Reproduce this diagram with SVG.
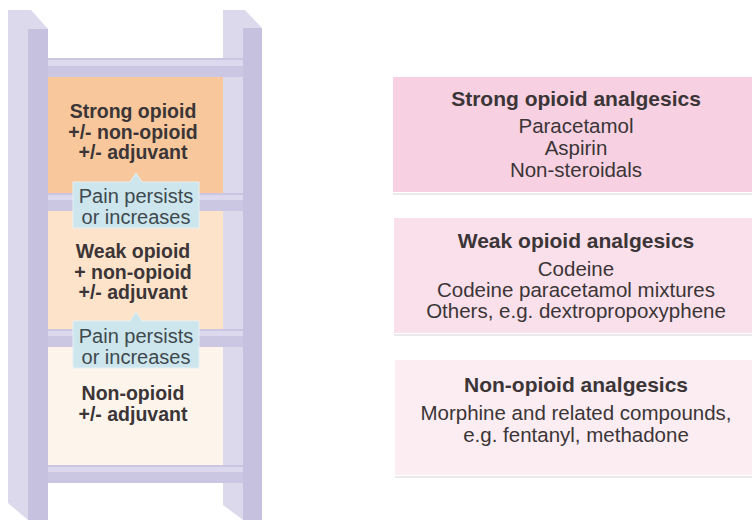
<svg xmlns="http://www.w3.org/2000/svg" width="752" height="520" viewBox="0 0 752 520">
<style>
  text { font-family: "Liberation Sans", Arial, sans-serif; text-anchor: middle; }
  .b { font-weight: bold; font-size: 19.5px; fill: #3b3537; }
  .rb { font-weight: bold; font-size: 21px; fill: #3b3537; }
  .r { font-size: 20.5px; fill: #3b3537; }
  .cl { font-size: 20px; fill: #3e494e; }
  .side { fill: #dcd9ec; }
  .front { fill: #c6c1de; }
  .rung { fill: #cbc6e2; }
  .hl { fill: #dcd9ee; }
  .callout { fill: #cde5ec; stroke: #e4f1f4; stroke-width: 1; }
  .shadow { fill: #ece9ea; }
</style>
<rect width="752" height="520" fill="#ffffff"/>

<g id="ladder">
  <rect x="48" y="77" width="176" height="117" fill="#f8c89c"/>
  <rect x="48" y="210" width="176" height="120" fill="#fde3ca"/>
  <rect x="48" y="346" width="176" height="120" fill="#fdf4ec"/>
  <polygon class="side" points="223,10 245,10 262,28 243,28 243,520 223,505"/>
  <rect class="rung" x="48" y="58" width="195" height="19"/>
  <rect class="hl" x="48" y="60" width="195" height="6"/>
  <rect class="rung" x="48" y="193" width="195" height="18"/>
  <rect class="hl" x="48" y="195" width="195" height="5"/>
  <rect class="rung" x="48" y="329" width="195" height="18"/>
  <rect class="hl" x="48" y="331" width="195" height="5"/>
  <rect class="rung" x="48" y="465" width="195" height="18"/>
  <rect class="hl" x="48" y="467" width="195" height="5"/>
  <rect class="front" x="243" y="28" width="19" height="492"/>
  <polygon class="side" points="8,10 31,10 48,29 28,29 28,520 8,503"/>
  <rect class="front" x="28" y="29" width="20" height="491"/>
</g>

<g id="step-strong">
  <text class="b" x="133" y="118">Strong opioid</text>
  <text class="b" x="133" y="138.5">+/- non-opioid</text>
  <text class="b" x="133" y="159">+/- adjuvant</text>
</g>
<g id="step-weak">
  <text class="b" x="133" y="258">Weak opioid</text>
  <text class="b" x="133" y="278.5">+ non-opioid</text>
  <text class="b" x="133" y="299">+/- adjuvant</text>
</g>
<g id="step-nonopioid">
  <text class="b" x="133" y="400">Non-opioid</text>
  <text class="b" x="133" y="421">+/- adjuvant</text>
</g>

<g id="connectors">
  <g id="callout-1">
    <path class="callout" d="M73,182 H130 L136,173 L142,182 H199 V228 H73 Z"/>
    <text class="cl" x="136" y="203">Pain persists</text>
    <text class="cl" x="136" y="223.5">or increases</text>
  </g>
  <g id="callout-2">
    <path class="callout" d="M73,321 H130 L136,312 L142,321 H199 V368 H73 Z"/>
    <text class="cl" x="136" y="343">Pain persists</text>
    <text class="cl" x="136" y="363.5">or increases</text>
  </g>
</g>

<g id="box-strong">
  <rect x="393" y="77" width="359" height="115" fill="#f7d1e1"/>
  <rect class="shadow" x="393" y="193" width="359" height="2"/>
  <text class="rb" x="576" y="106">Strong opioid analgesics</text>
  <text class="r" x="576" y="133">Paracetamol</text>
  <text class="r" x="576" y="155">Aspirin</text>
  <text class="r" x="576" y="176.5">Non-steroidals</text>
</g>
<g id="box-weak">
  <rect x="394" y="218" width="358" height="115" fill="#fae0ea"/>
  <rect class="shadow" x="394" y="334" width="358" height="2"/>
  <text class="rb" x="576" y="248">Weak opioid analgesics</text>
  <text class="r" x="576" y="276">Codeine</text>
  <text class="r" x="576" y="297">Codeine paracetamol mixtures</text>
  <text class="r" x="576" y="318">Others, e.g. dextropropoxyphene</text>
</g>
<g id="box-nonopioid">
  <rect x="395" y="360" width="357" height="115" fill="#fcedf2"/>
  <rect class="shadow" x="395" y="476" width="357" height="2"/>
  <text class="rb" x="576" y="392">Non-opioid analgesics</text>
  <text class="r" x="576" y="420">Morphine and related compounds,</text>
  <text class="r" x="576" y="442">e.g. fentanyl, methadone</text>
</g>
</svg>
